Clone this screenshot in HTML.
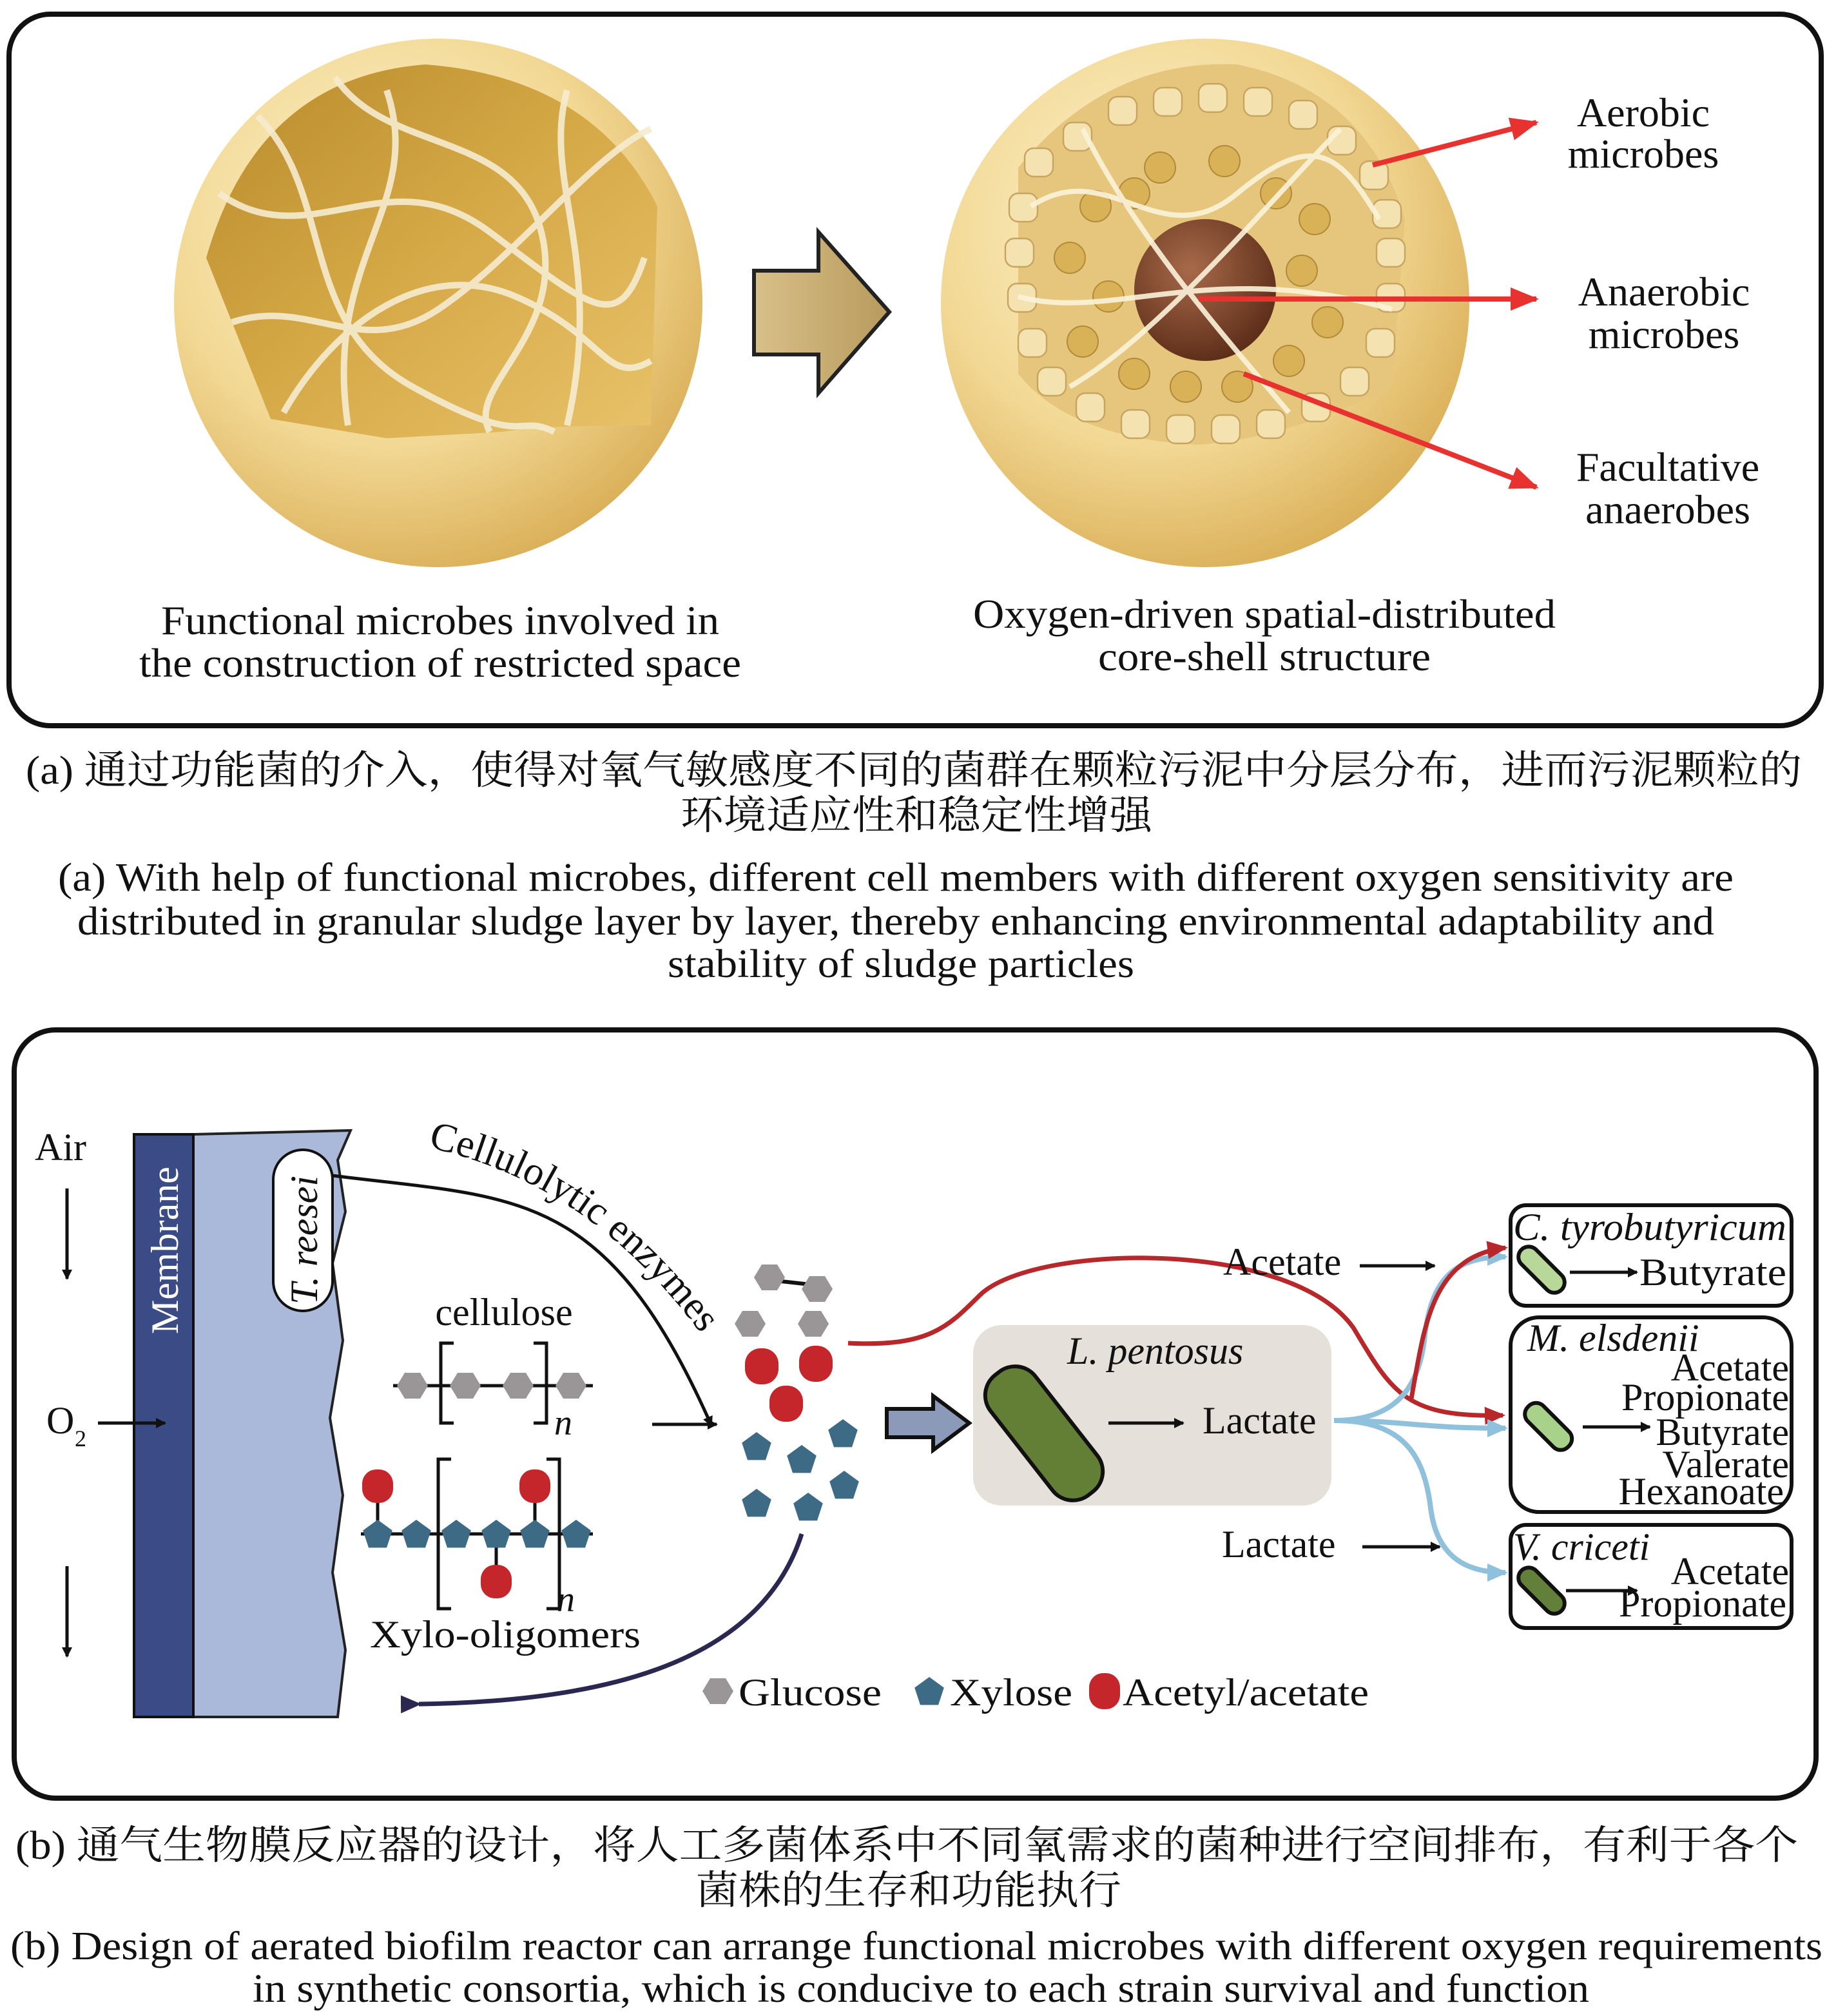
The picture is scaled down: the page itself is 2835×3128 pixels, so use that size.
<!DOCTYPE html>
<html><head><meta charset="utf-8"><style>
html,body{margin:0;padding:0;background:#fff}
svg{display:block}
text{font-family:"Liberation Serif","Noto Serif CJK SC",serif;fill:#111}
.cn{font-family:"Liberation Serif","Noto Serif CJK SC","Noto Sans CJK SC",serif}
</style></head><body>
<svg width="2835" height="3128" viewBox="0 0 1417.5 1564" xmlns="http://www.w3.org/2000/svg">
<defs>
<radialGradient id="sph" cx="0.4" cy="0.35" r="0.7">
<stop offset="0" stop-color="#fdf3cf"/><stop offset="0.6" stop-color="#f2d894"/><stop offset="1" stop-color="#d9ad55"/></radialGradient>
<linearGradient id="cut" x1="0" y1="0" x2="1" y2="1">
<stop offset="0" stop-color="#b88a2a"/><stop offset="0.5" stop-color="#d6a947"/><stop offset="1" stop-color="#e8c26a"/></linearGradient>
<radialGradient id="core" cx="0.4" cy="0.35" r="0.7"><stop offset="0" stop-color="#a86a4a"/><stop offset="1" stop-color="#5a2b17"/></radialGradient>
<linearGradient id="tan" x1="0" y1="0" x2="1" y2="0"><stop offset="0" stop-color="#d8c08a"/><stop offset="1" stop-color="#b89a5c"/></linearGradient>
<marker id="ar" markerWidth="8" markerHeight="8" refX="7" refY="4" orient="auto" markerUnits="userSpaceOnUse"><path d="M0,0 L8,4 L0,8 z" fill="#111"/></marker>
<marker id="rr" markerWidth="22" markerHeight="18" refX="20" refY="9" orient="auto" markerUnits="userSpaceOnUse"><path d="M0,0 L22,9 L0,18 z" fill="#e8322f"/></marker>
<marker id="dr" markerWidth="16" markerHeight="14" refX="2" refY="7" orient="auto" markerUnits="userSpaceOnUse"><path d="M16,0 L0,7 L16,14 z" fill="#2a2850"/></marker>
<marker id="rd" markerWidth="16" markerHeight="14" refX="14" refY="7" orient="auto" markerUnits="userSpaceOnUse"><path d="M0,0 L16,7 L0,14 z" fill="#b8282a"/></marker>
<marker id="bl" markerWidth="16" markerHeight="14" refX="14" refY="7" orient="auto" markerUnits="userSpaceOnUse"><path d="M0,0 L16,7 L0,14 z" fill="#8fc1dc"/></marker>
<polygon id="hex" points="-12,0 -6,-10 6,-10 12,0 6,10 -6,10" fill="#9a9597"/>
<polygon id="pen" points="0,-12 11.4,-3.7 7,9.7 -7,9.7 -11.4,-3.7" fill="#3d6a85"/>
</defs>

<!-- Panel a -->
<rect x="7" y="11" width="1406" height="552" rx="32" fill="#fff" stroke="#111" stroke-width="4"/>
<circle cx="340" cy="235" r="205" fill="url(#sph)"/>
<path d="M160,200 Q200,60 330,50 Q460,60 510,160 L505,330 Q420,330 390,335 L300,340 L210,325 Z" fill="url(#cut)"/>
<g fill="none" stroke="#f6ecd0" stroke-width="5" opacity="0.9">
<path d="M170,150 C240,200 300,120 380,180 S480,260 500,200"/>
<path d="M200,90 C260,150 230,250 320,300 S400,320 430,335"/>
<path d="M260,60 C300,120 400,100 420,180 S360,300 380,335"/>
<path d="M180,250 C240,230 280,280 340,240 S460,120 505,100"/>
<path d="M220,320 C260,250 330,200 400,230 S470,300 505,280"/>
<path d="M300,70 C330,160 250,200 270,330"/>
<path d="M440,70 C420,140 470,200 440,330"/>
</g>
<polygon points="585,210 635,210 635,180 690,242 635,305 635,275 585,275" fill="url(#tan)" stroke="#222" stroke-width="3"/>
<circle cx="935" cy="235" r="205" fill="url(#sph)"/>
<path d="M790,130 Q860,45 960,50 Q1060,70 1090,170 L1080,300 Q1000,340 930,345 Q830,340 790,290 Z" fill="#e6c67c"/>
<g fill="#d9b257" stroke="#b08a3a" stroke-width="1">
<circle cx="850" cy="160" r="12"/><circle cx="880" cy="150" r="12"/><circle cx="990" cy="150" r="12"/><circle cx="1020" cy="170" r="12"/>
<circle cx="830" cy="200" r="12"/><circle cx="860" cy="230" r="12"/><circle cx="840" cy="265" r="12"/><circle cx="1010" cy="210" r="12"/><circle cx="1030" cy="250" r="12"/><circle cx="1000" cy="280" r="12"/><circle cx="880" cy="290" r="12"/><circle cx="920" cy="300" r="12"/><circle cx="960" cy="300" r="12"/><circle cx="900" cy="130" r="12"/><circle cx="950" cy="125" r="12"/>
</g>
<g fill="#f4e3b0" stroke="#c7a460" stroke-width="1.2">
<rect x="795" y="115" width="22" height="22" rx="7"/><rect x="825" y="95" width="22" height="22" rx="7"/><rect x="860" y="75" width="22" height="22" rx="7"/><rect x="895" y="68" width="22" height="22" rx="7"/><rect x="930" y="65" width="22" height="22" rx="7"/><rect x="965" y="68" width="22" height="22" rx="7"/><rect x="1000" y="78" width="22" height="22" rx="7"/><rect x="1030" y="98" width="22" height="22" rx="7"/><rect x="1055" y="125" width="22" height="22" rx="7"/>
<rect x="783" y="150" width="22" height="22" rx="7"/><rect x="780" y="185" width="22" height="22" rx="7"/><rect x="782" y="220" width="22" height="22" rx="7"/><rect x="790" y="255" width="22" height="22" rx="7"/><rect x="805" y="285" width="22" height="22" rx="7"/><rect x="835" y="305" width="22" height="22" rx="7"/><rect x="870" y="318" width="22" height="22" rx="7"/><rect x="905" y="322" width="22" height="22" rx="7"/><rect x="940" y="322" width="22" height="22" rx="7"/><rect x="975" y="318" width="22" height="22" rx="7"/><rect x="1010" y="305" width="22" height="22" rx="7"/><rect x="1040" y="285" width="22" height="22" rx="7"/><rect x="1060" y="255" width="22" height="22" rx="7"/><rect x="1068" y="220" width="22" height="22" rx="7"/><rect x="1068" y="185" width="22" height="22" rx="7"/><rect x="1065" y="155" width="22" height="22" rx="7"/>
</g>
<circle cx="935" cy="225" r="55" fill="url(#core)"/>
<g fill="none" stroke="#fbf3da" stroke-width="4" opacity="0.9">
<path d="M800,160 C860,120 900,200 960,150 S1040,120 1070,170"/>
<path d="M840,100 C880,180 940,250 1000,320"/>
<path d="M1040,100 C990,150 900,260 830,300"/>
<path d="M790,230 C860,250 940,200 1080,240"/>
</g>
<line x1="1065" y1="128" x2="1192" y2="95" stroke="#e8322f" stroke-width="4" marker-end="url(#rr)"/>
<line x1="930" y1="232" x2="1192" y2="232" stroke="#e8322f" stroke-width="4" marker-end="url(#rr)"/>
<line x1="965" y1="290" x2="1192" y2="378" stroke="#e8322f" stroke-width="4" marker-end="url(#rr)"/>
<g font-size="32" text-anchor="middle" lengthAdjust="spacingAndGlyphs">
<text x="1275" y="98">Aerobic</text><text x="1275" y="130">microbes</text>
<text x="1291" y="237">Anaerobic</text><text x="1291" y="270">microbes</text>
<text x="1294" y="373">Facultative</text><text x="1294" y="406">anaerobes</text>
</g>
<g font-size="32">
<text x="125" y="492" textLength="433" lengthAdjust="spacingAndGlyphs">Functional microbes involved in</text>
<text x="108" y="525" textLength="467" lengthAdjust="spacingAndGlyphs">the construction of restricted space</text>
<text x="755" y="487" textLength="452" lengthAdjust="spacingAndGlyphs">Oxygen-driven spatial-distributed</text>
<text x="852" y="520" textLength="258" lengthAdjust="spacingAndGlyphs">core-shell structure</text>
</g>
<g font-size="31">
<text class="cn" x="20" y="608" textLength="1378" lengthAdjust="spacingAndGlyphs">(a) 通过功能菌的介入，使得对氧气敏感度不同的菌群在颗粒污泥中分层分布，进而污泥颗粒的</text>
<text class="cn" x="528" y="643" textLength="366" lengthAdjust="spacingAndGlyphs">环境适应性和稳定性增强</text>
<text x="45" y="691" textLength="1300" lengthAdjust="spacingAndGlyphs">(a) With help of functional microbes, different cell members with different oxygen sensitivity are</text>
<text x="60" y="725" textLength="1270" lengthAdjust="spacingAndGlyphs">distributed in granular sludge layer by layer, thereby enhancing environmental adaptability and</text>
<text x="518" y="758" textLength="362" lengthAdjust="spacingAndGlyphs">stability of sludge particles</text>
</g>

<!-- Panel b -->
<rect x="11" y="799" width="1398" height="596" rx="32" fill="#fff" stroke="#111" stroke-width="4"/>
<path d="M150,880 L272,877 L262,900 L268,940 L258,980 L266,1040 L256,1100 L266,1160 L258,1220 L268,1280 L262,1332 L150,1332 Z" fill="#aab8d9" stroke="#222" stroke-width="2"/>
<rect x="104" y="880" width="46" height="452" fill="#3b4b86" stroke="#111" stroke-width="2"/>
<text x="138" y="1035" font-size="30" fill="#fff" style="fill:#fff" transform="rotate(-90 138 1035)">Membrane</text>
<rect x="212" y="892" width="46" height="125" rx="23" fill="#fff" stroke="#111" stroke-width="2"/>
<text x="246" y="1012" font-size="30" font-style="italic" transform="rotate(-90 246 1012)">T. reesei</text>
<text x="27" y="900" font-size="30">Air</text>
<line x1="52" y1="922" x2="52" y2="992" stroke="#111" stroke-width="2.5" marker-end="url(#ar)"/>
<line x1="52" y1="1215" x2="52" y2="1285" stroke="#111" stroke-width="2.5" marker-end="url(#ar)"/>
<text x="36" y="1112" font-size="30">O</text><text x="58" y="1122" font-size="18">2</text>
<line x1="76" y1="1104" x2="128" y2="1104" stroke="#111" stroke-width="2.5" marker-end="url(#ar)"/>
<path d="M258,912 C400,930 470,920 552,1106" fill="none" stroke="#111" stroke-width="2.5" marker-end="url(#ar)"/>
<text font-size="31"><textPath href="#enz" startOffset="0">Cellulolytic enzymes</textPath></text>
<path id="enz" d="M332,890 C420,910 500,960 575,1080" fill="none"/>
<text x="391" y="1028" font-size="30" text-anchor="middle">cellulose</text>
<line x1="305" y1="1075" x2="460" y2="1075" stroke="#111" stroke-width="2.5"/>
<use href="#hex" x="320" y="1075"/><use href="#hex" x="361" y="1075"/><use href="#hex" x="402" y="1075"/><use href="#hex" x="443" y="1075"/>
<path d="M352,1042 h-10 v62 h10 M414,1042 h10 v62 h-10" fill="none" stroke="#111" stroke-width="2.5"/>
<text x="430" y="1113" font-size="28" font-style="italic">n</text>
<line x1="280" y1="1190" x2="460" y2="1190" stroke="#111" stroke-width="2.5"/>
<line x1="293" y1="1150" x2="293" y2="1190" stroke="#111" stroke-width="2.5"/>
<line x1="415" y1="1150" x2="415" y2="1190" stroke="#111" stroke-width="2.5"/>
<line x1="385" y1="1190" x2="385" y2="1225" stroke="#111" stroke-width="2.5"/>
<rect x="281" y="1140" width="24" height="26" rx="11" fill="#c4262b"/>
<rect x="403" y="1140" width="24" height="26" rx="11" fill="#c4262b"/>
<rect x="373" y="1214" width="24" height="26" rx="11" fill="#c4262b"/>
<use href="#pen" x="293" y="1191"/><use href="#pen" x="323" y="1191"/><use href="#pen" x="354" y="1191"/><use href="#pen" x="385" y="1191"/><use href="#pen" x="415" y="1191"/><use href="#pen" x="447" y="1191"/>
<path d="M350,1132 h-10 v116 h10 M424,1132 h10 v116 h-10" fill="none" stroke="#111" stroke-width="2.5"/>
<text x="432" y="1250" font-size="28" font-style="italic">n</text>
<text x="287" y="1278" font-size="30" textLength="210" lengthAdjust="spacingAndGlyphs">Xylo-oligomers</text>
<line x1="506" y1="1105" x2="556" y2="1105" stroke="#111" stroke-width="2.5" marker-end="url(#ar)"/>
<!-- pool -->
<line x1="597" y1="993" x2="633" y2="997" stroke="#111" stroke-width="3"/>
<use href="#hex" x="597" y="991"/><use href="#hex" x="634" y="1000"/><use href="#hex" x="582" y="1027"/><use href="#hex" x="631" y="1027"/>
<rect x="578" y="1046" width="26" height="28" rx="12" fill="#c4262b"/><rect x="620" y="1044" width="26" height="28" rx="12" fill="#c4262b"/><rect x="597" y="1075" width="26" height="28" rx="12" fill="#c4262b"/>
<use href="#pen" x="587" y="1123"/><use href="#pen" x="654" y="1113"/><use href="#pen" x="622" y="1133"/><use href="#pen" x="655" y="1153"/><use href="#pen" x="587" y="1167"/><use href="#pen" x="627" y="1170"/>
<path d="M622,1190 C590,1290 470,1320 325,1322" fill="none" stroke="#2a2850" stroke-width="3.5" marker-end="url(#dr)"/>
<polygon points="688,1093 724,1093 724,1083 752,1104 724,1125 724,1115 688,1115" fill="#8b9ab8" stroke="#111" stroke-width="3"/>
<rect x="755" y="1028" width="278" height="140" rx="22" fill="#e5e0da"/>
<text x="828" y="1058" font-size="30" font-style="italic">L. pentosus</text>
<rect x="788" y="1053" width="44" height="118" rx="20" fill="#637f36" stroke="#111" stroke-width="3" transform="rotate(-38 810 1112)"/>
<line x1="860" y1="1104" x2="918" y2="1104" stroke="#111" stroke-width="2.5" marker-end="url(#ar)"/>
<text x="933" y="1112" font-size="30">Lactate</text>
<path d="M658,1042 C720,1045 735,1030 760,1005 C800,965 1000,960 1050,1030 C1080,1080 1090,1100 1166,1098" fill="none" stroke="#b8282a" stroke-width="3.5" marker-end="url(#rd)"/>
<path d="M1035,1102 C1080,1102 1100,1080 1105,1040 C1110,990 1130,975 1168,975" fill="none" stroke="#8fc1dc" stroke-width="4" marker-end="url(#bl)"/>
<path d="M1095,1085 C1105,1030 1110,975 1168,968" fill="none" stroke="#b8282a" stroke-width="3.5" marker-end="url(#rd)"/>
<path d="M1035,1102 C1090,1102 1100,1108 1168,1108" fill="none" stroke="#8fc1dc" stroke-width="4" marker-end="url(#bl)"/>
<path d="M1035,1102 C1090,1102 1105,1130 1110,1170 C1115,1210 1140,1220 1168,1220" fill="none" stroke="#8fc1dc" stroke-width="4" marker-end="url(#bl)"/>
<text x="949" y="989" font-size="30">Acetate</text>
<line x1="1055" y1="982" x2="1113" y2="982" stroke="#111" stroke-width="2.5" marker-end="url(#ar)"/>
<text x="948" y="1208" font-size="30">Lactate</text>
<line x1="1057" y1="1200" x2="1117" y2="1200" stroke="#111" stroke-width="2.5" marker-end="url(#ar)"/>
<!-- boxes -->
<rect x="1172" y="935" width="218" height="78" rx="12" fill="#fff" stroke="#111" stroke-width="3"/>
<text x="1174" y="962" font-size="30" font-style="italic" textLength="212" lengthAdjust="spacingAndGlyphs">C. tyrobutyricum</text>
<rect x="1188" y="963" width="16" height="44" rx="8" fill="#b8d89a" stroke="#111" stroke-width="3" transform="rotate(-45 1196 985)"/>
<line x1="1218" y1="987" x2="1270" y2="987" stroke="#111" stroke-width="2.5" marker-end="url(#ar)"/>
<text x="1272" y="997" font-size="30" textLength="114" lengthAdjust="spacingAndGlyphs">Butyrate</text>
<rect x="1172" y="1022" width="218" height="151" rx="22" fill="#fff" stroke="#111" stroke-width="3"/>
<text x="1185" y="1048" font-size="30" font-style="italic">M. elsdenii</text>
<g font-size="30" text-anchor="end">
<text x="1388" y="1071">Acetate</text><text x="1388" y="1094">Propionate</text><text x="1388" y="1121">Butyrate</text><text x="1388" y="1146">Valerate</text><text x="1384" y="1167">Hexanoate</text>
</g>
<rect x="1193" y="1085" width="17" height="44" rx="8" fill="#a8d28a" stroke="#111" stroke-width="3" transform="rotate(-45 1201 1107)"/>
<line x1="1228" y1="1107" x2="1280" y2="1107" stroke="#111" stroke-width="2.5" marker-end="url(#ar)"/>
<rect x="1172" y="1183" width="218" height="80" rx="12" fill="#fff" stroke="#111" stroke-width="3"/>
<text x="1174" y="1210" font-size="30" font-style="italic">V. criceti</text>
<rect x="1188" y="1212" width="16" height="44" rx="8" fill="#62803a" stroke="#111" stroke-width="3" transform="rotate(-45 1196 1234)"/>
<line x1="1215" y1="1234" x2="1270" y2="1234" stroke="#111" stroke-width="2.5" marker-end="url(#ar)"/>
<g font-size="30" text-anchor="end"><text x="1388" y="1229">Acetate</text><text x="1386" y="1254">Propionate</text></g>
<!-- legend -->
<use href="#hex" x="557" y="1312"/><text x="573" y="1323" font-size="30" textLength="111" lengthAdjust="spacingAndGlyphs">Glucose</text>
<use href="#pen" x="721" y="1313"/><text x="737" y="1323" font-size="30" textLength="95" lengthAdjust="spacingAndGlyphs">Xylose</text>
<rect x="845" y="1298" width="24" height="28" rx="11" fill="#c4262b"/><text x="871" y="1323" font-size="30" textLength="191" lengthAdjust="spacingAndGlyphs">Acetyl/acetate</text>
<g font-size="31">
<text class="cn" x="12" y="1442" textLength="1383" lengthAdjust="spacingAndGlyphs">(b) 通气生物膜反应器的设计，将人工多菌体系中不同氧需求的菌种进行空间排布，有利于各个</text>
<text class="cn" x="540" y="1477" textLength="330" lengthAdjust="spacingAndGlyphs">菌株的生存和功能执行</text>
<text x="8" y="1520" textLength="1406" lengthAdjust="spacingAndGlyphs">(b) Design of aerated biofilm reactor can arrange functional microbes with different oxygen requirements</text>
<text x="196" y="1553" textLength="1037" lengthAdjust="spacingAndGlyphs">in synthetic consortia, which is conducive to each strain survival and function</text>
</g>
</svg>
</body></html>
